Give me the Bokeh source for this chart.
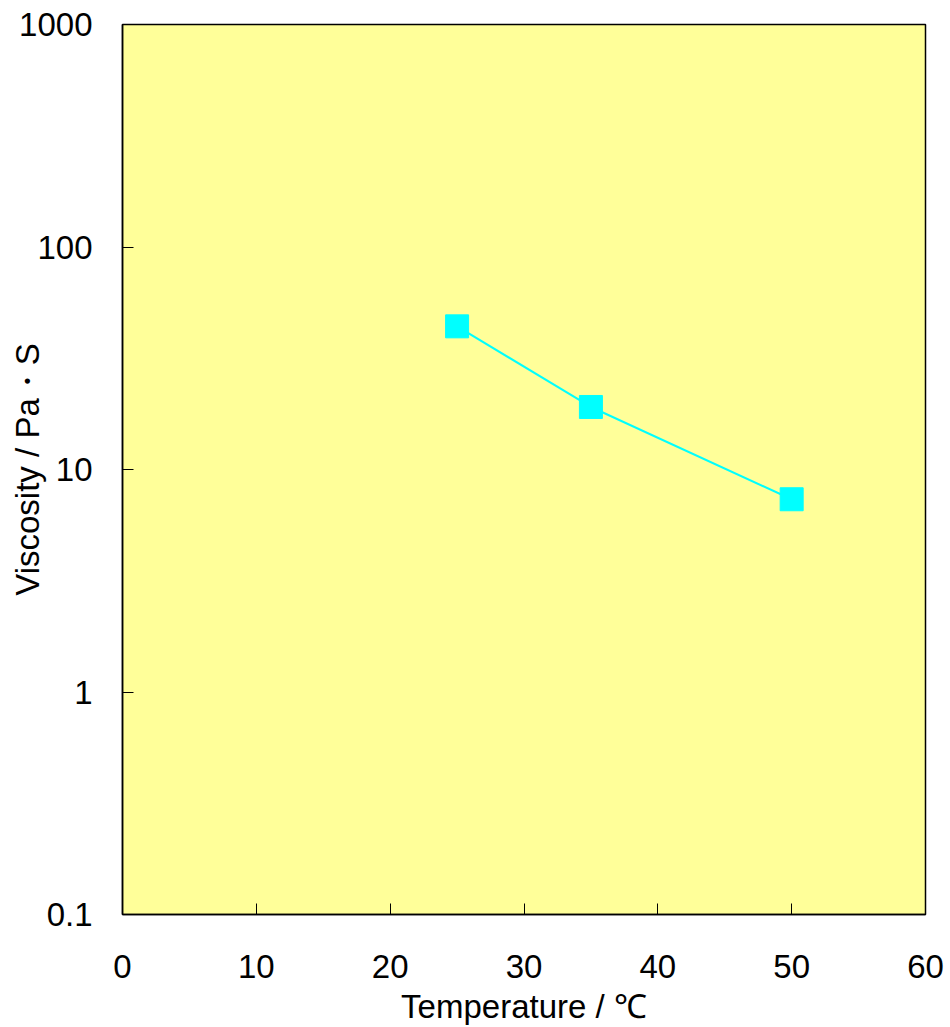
from bokeh.plotting import figure
from bokeh.models import Range1d, FixedTicker, CustomJSTickFormatter
from bokeh.embed import file_html
from bokeh.resources import INLINE

# Data
temperature = [25, 35, 50]
viscosity = [44.0, 19.1, 7.35]
x_ticks = [0, 10, 20, 30, 40, 50, 60]
y_ticks = [0.1, 1, 10, 100, 1000]
x_label = "Temperature / ℃"
y_label = "Viscosity / Pa・S"

TICK_FONT = "Liberation Sans"
LABEL_FONT = "Liberation Sans"

W, H = 950, 1027
ML, MT = 122, 24
FRAME_W, FRAME_H = 803, 890
MR = W - ML - FRAME_W
MB = H - MT - FRAME_H

p = figure(width=W, height=H, output_backend="svg", toolbar_location=None,
           x_range=Range1d(0, 60), y_range=Range1d(0.1, 1000), y_axis_type="log",
           min_border_left=ML, min_border_right=MR, min_border_top=MT, min_border_bottom=MB)

p.background_fill_color = "#FFFF99"
p.border_fill_color = "white"
p.outline_line_color = "black"
p.outline_line_width = 1.5
p.xgrid.visible = False
p.ygrid.visible = False

for ax in (p.xaxis, p.yaxis):
    ax.axis_line_color = "black"
    ax.axis_line_width = 1.5
    ax.major_tick_in = 11
    ax.major_tick_out = 0
    ax.major_tick_line_color = "black"
    ax.major_tick_line_width = 1
    ax.minor_tick_line_color = None
    ax.major_label_text_font = TICK_FONT
    ax.major_label_text_font_size = "33px"
    ax.major_label_text_color = "black"
    ax.axis_label_text_font = LABEL_FONT
    ax.axis_label_text_font_size = "33px"
    ax.axis_label_text_font_style = "normal"
    ax.axis_label_text_color = "black"

p.xaxis.ticker = FixedTicker(ticks=x_ticks)
p.yaxis.ticker = FixedTicker(ticks=y_ticks)
p.yaxis.formatter = CustomJSTickFormatter(code="return tick.toString();")
p.xaxis.major_label_standoff = 40
p.yaxis.major_label_standoff = 30

p.xaxis.axis_label = x_label
p.yaxis.axis_label = y_label
p.xaxis.axis_label_standoff = 7
p.yaxis.axis_label_standoff = -30

p.line(temperature, viscosity, line_color="#00FFFF", line_width=2)
p.scatter(temperature, viscosity, marker="square", size=23,
          fill_color="#00FFFF", line_color="#00FFFF")

open("out.html", "w").write(file_html(p, INLINE))
